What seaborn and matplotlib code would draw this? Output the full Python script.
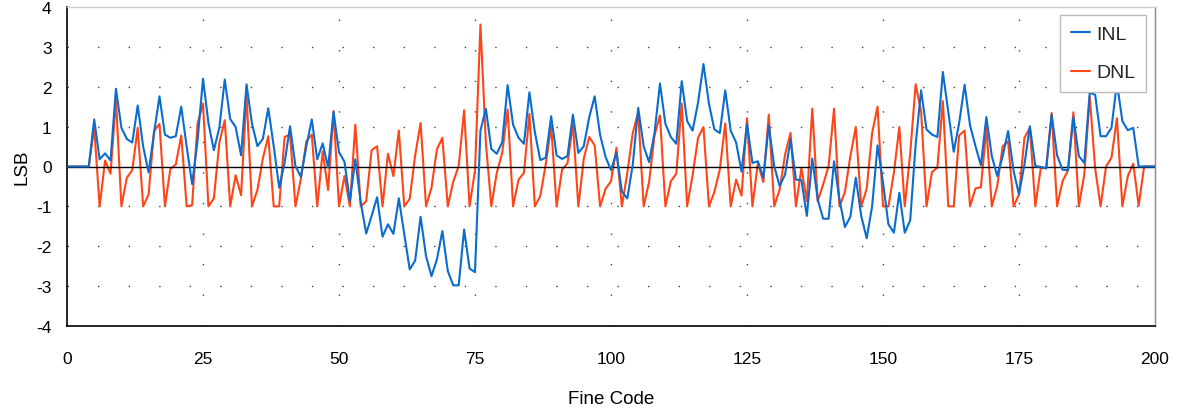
import numpy as np
import pandas as pd
import matplotlib
matplotlib.use("Agg")
import matplotlib.pyplot as plt
import seaborn as sns

codes = list(range(0, 201))

inl = [0, 0, 0, 0, 0, 1.18, 0.18, 0.33, 0.15, 1.95,
       0.97, 0.69, 0.6, 1.53, 0.5, -0.15, 0.84, 1.76, 0.8, 0.72,
       0.76, 1.5, 0.5, -0.44, 0.65, 2.2, 1.09, 0.41, 0.97, 2.18,
       1.19, 0.99, 0.28, 2.06, 1.08, 0.51, 0.69, 1.46, 0.51, -0.53,
       0.09, 1.01, 0.01, -0.26, 0.51, 1.18, 0.18, 0.58, -0.03, 1.37,
       0.36, 0.12, -0.87, 0.18, -0.91, -1.68, -1.24, -0.77, -1.76, -1.45,
       -1.69, -0.8, -1.7, -2.58, -2.36, -1.26, -2.25, -2.75, -2.33, -1.62,
       -2.62, -2.98, -2.98, -1.58, -2.56, -2.65, 0.9, 1.45, 0.44, 0.32,
       0.61, 2.04, 1.05, 0.72, 0.57, 1.86, 0.86, 0.16, 0.22, 1.26,
       0.28, 0.19, 0.26, 1.3, 0.34, 0.51, 1.24, 1.76, 0.79, 0.24,
       -0.09, 0.34, -0.63, -0.8, 0.05, 1.47, 0.51, 0.11, 0.84, 2.08,
       1.07, 0.74, 0.57, 2.14, 1.14, 0.9, 1.6, 2.57, 1.58, 0.93,
       0.84, 1.91, 0.9, 0.6, -0.13, 1.07, 0.09, 0.13, -0.28, 1.03,
       0.01, -0.49, -0.2, 0.68, -0.33, -0.34, -1.24, 0.2, -0.83, -1.31,
       -1.31, 0.13, -0.83, -1.52, -1.26, -0.28, -1.24, -1.8, -1.0, 0.53,
       -0.4, -1.45, -1.66, -0.66, -1.66, -1.35, 0.55, 1.91, 0.93, 0.8,
       0.74, 2.37, 1.37, 0.37, 1.09, 2.05, 1.03, 0.51, 0.03, 1.24,
       0.26, -0.24, 0.26, 0.89, -0.11, -0.7, 0.05, 1.01, 0.01, -0.01,
       -0.05, 1.3, 0.28, -0.08, -0.09, 1.24, 0.26, 0.09, 1.85, 1.8,
       0.76, 0.76, 0.97, 2.1, 1.14, 0.91, 0.97, 0.0, 0, 0,
       0]

dnl = [0, 0, 0, 0, 0, 0.97, -1.0, 0.15, -0.18, 1.68,
       -1.0, -0.28, -0.09, 0.97, -1.0, -0.7, 0.89, 1.07, -1.0, -0.06,
       0.05, 0.78, -1.0, -0.97, 1.08, 1.58, -1.0, -0.8, 0.59, 1.16,
       -1.0, -0.22, -0.72, 1.8, -1.0, -0.59, 0.2, 0.76, -1.0, -1.0,
       0.74, 0.8, -1.0, -0.3, 0.63, 0.8, -1.0, 0.38, -0.59, 1.39,
       -1.0, -0.24, -1.0, 1.05, -1.0, -0.87, 0.41, 0.51, -1.0, 0.32,
       -0.24, 0.9, -1.0, -0.81, 0.28, 1.09, -1.0, -0.53, 0.43, 0.72,
       -1.0, -0.38, 0.01, 1.41, -1.0, -0.1, 3.56, 0.59, -1.0, -0.16,
       0.34, 1.43, -1.0, -0.33, -0.16, 1.32, -1.0, -0.74, 0.05, 1.01,
       -1.0, -0.08, 0.08, 1.05, -1.0, 0.2, 0.74, 0.53, -1.0, -0.56,
       -0.37, 0.47, -1.0, -0.16, 0.84, 1.36, -1.0, -0.39, 0.78, 1.28,
       -1.0, -0.37, -0.18, 1.58, -1.0, -0.22, 0.72, 0.99, -1.0, -0.64,
       -0.08, 1.08, -1.0, -0.33, -0.73, 1.21, -1.0, 0.09, -0.39, 1.3,
       -1.0, -0.58, 0.3, 0.84, -1.0, -0.04, -0.87, 1.45, -0.87, -0.45,
       0.01, 1.45, -1.0, -0.64, 0.26, 0.99, -1.0, -0.56, 0.84, 1.5,
       -1.0, -1.0, -0.16, 0.99, -1.0, 0.33, 2.06, 1.39, -1.0, -0.14,
       -0.03, 1.64, -1.0, -1.0, 0.78, 0.9, -1.0, -0.55, -0.52, 0.97,
       -1.0, -0.49, 0.51, 0.63, -1.0, -0.7, 0.72, 0.97, -1.0, -0.04,
       -0.04, 1.34, -1.0, -0.37, -0.1, 1.36, -1.0, -0.2, 1.76, -0.05,
       -1.0, 0.0, 0.22, 1.21, -1.0, -0.24, 0.07, -0.98, 0.0, 0,
       0]

x_ticks = [0, 25, 50, 75, 100, 125, 150, 175, 200]
y_ticks = [-4, -3, -2, -1, 0, 1, 2, 3, 4]

df = pd.DataFrame({"code": codes, "INL": inl, "DNL": dnl})

sns.set_theme(style="white")
plt.rcParams['font.family'] = ['Liberation Sans', 'DejaVu Sans']
plt.rcParams['axes.unicode_minus'] = False

blue = "#0a6ccf"
red = "#ff4517"

fig = plt.figure(figsize=(11.77, 4.14), dpi=100)
ax = fig.add_axes([67/1177, 1 - 327/414, (1155-67)/1177, (327-8)/414])

# grid (sparse dotted)
for xv in x_ticks[1:-1]:
    ax.axvline(xv, color="#444444", lw=1.0, linestyle=(0, (1, 21)), zorder=0)
for yv in y_ticks[1:-1]:
    if yv != 0:
        ax.axhline(yv, color="#444444", lw=1.0, linestyle=(0, (1, 21)), zorder=0)

sns.lineplot(data=df, x="code", y="DNL", ax=ax, color=red, lw=1.5, label="DNL", zorder=2)
ax.axhline(0, color="black", lw=1.0, zorder=2.5)
sns.lineplot(data=df, x="code", y="INL", ax=ax, color=blue, lw=1.5, label="INL", zorder=3)

ax.set_xlim(0, 200)
ax.set_ylim(-4, 4)
ax.set_xticks(x_ticks)
ax.set_yticks(y_ticks)
ax.tick_params(axis="x", direction="out", length=8, width=1, color="black", pad=10, labelsize=12.5, labelcolor="black")
ax.tick_params(axis="y", direction="out", length=7, width=1, color="black", pad=4, labelsize=12.5, labelcolor="black")
ax.set_xlabel("Fine Code", fontsize=13.5, labelpad=17, color="black")
ax.set_ylabel("LSB", fontsize=13.5, labelpad=4, color="black")

for s in ["left", "bottom"]:
    ax.spines[s].set_color("black")
    ax.spines[s].set_linewidth(1.2)
ax.spines["top"].set_color("#cccccc")
ax.spines["right"].set_color("#888888")
ax.spines["top"].set_linewidth(1.0)
ax.spines["right"].set_linewidth(1.0)

handles, labels = ax.get_legend_handles_labels()
order = [labels.index("INL"), labels.index("DNL")]
leg = ax.legend([handles[i] for i in order], [labels[i] for i in order],
                loc="upper right", bbox_to_anchor=(0.9917, 0.975), fontsize=14,
                frameon=True, fancybox=False, edgecolor="#bbbbbb", framealpha=1,
                handlelength=1.0, handletextpad=0.3, labelspacing=1.05,
                borderpad=0.55, borderaxespad=0)
leg.get_frame().set_linewidth(1.0)
leg.set_zorder(5)

fig.savefig("out.png", dpi=100)
